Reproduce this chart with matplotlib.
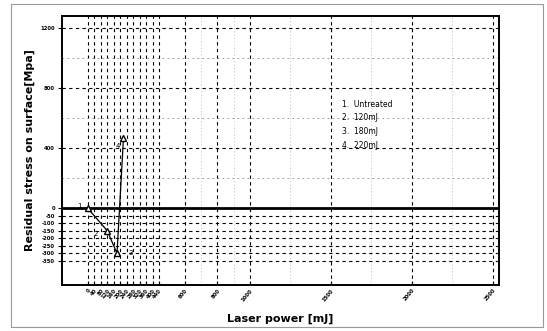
import matplotlib
matplotlib.use("Agg")
import matplotlib.pyplot as plt
from matplotlib.patches import Rectangle

# Data
power = [0, 120, 180, 220]
stress = [0, -150, -300, 470]
point_ids = ["1", "2", "3", "4"]
legend_lines = ["1.  Untreated", "2.  120mJ", "3.  180mJ", "4.  220mJ"]

xticks = [0, 40, 80, 120, 160, 200, 240, 280, 320, 360, 400, 440, 600, 800, 1000, 1500, 2000, 2500]
yticks = [-350, -300, -250, -200, -150, -100, -50, 0, 400, 800, 1200]
x_minor = [700, 900, 1250, 1750, 2250]
y_minor = [200, 600, 1000]

fig = plt.figure(figsize=(5.47, 3.31), dpi=100)
fig.patches.append(Rectangle((0.02, 0.012), 0.972, 0.975, transform=fig.transFigure,
                             fill=False, edgecolor="#999999", lw=0.8))
ax = fig.add_axes([0.1133, 0.139, 0.799, 0.813])

ax.set_xlim(-160, 2540)
ax.set_ylim(-510, 1280)

# grid
for xv in xticks:
    ax.axvline(xv, color="black", lw=0.8, ls=(0, (3, 3)), zorder=1)
for xv in x_minor:
    ax.axvline(xv, color="#aaaaaa", lw=0.6, ls=(0, (1, 3)), zorder=1)
for yv in yticks:
    if yv != 0:
        ax.axhline(yv, color="black", lw=0.8, ls=(0, (3, 3)), zorder=1)
for yv in y_minor:
    ax.axhline(yv, color="#888888", lw=0.6, ls=(0, (2, 4)), zorder=1)
ax.axhline(0, color="black", lw=2.0, zorder=2)

ax.plot(power, stress, color="black", lw=0.9, marker="^", markersize=5,
        markerfacecolor="white", markeredgecolor="black", zorder=3)
offsets = [(-6, 2), (-8, -2), (10, 0), (-4, -6)]
for xv, yv, t, (dx, dy) in zip(power, stress, point_ids, offsets):
    ax.annotate(t, (xv, yv), xytext=(dx, dy), textcoords="offset points",
                fontsize=5, ha="center", va="center")

ax.set_xticks(xticks)
ax.set_xticklabels([str(v) for v in xticks], rotation=50, fontsize=3.8,
                   fontweight="bold", ha="right", rotation_mode="anchor")
ax.set_yticks(yticks)
ax.set_yticklabels([str(v) for v in yticks], fontsize=3.8, fontweight="bold")
ax.tick_params(axis="both", length=3, width=0.8, direction="in", pad=2)
ax.tick_params(axis="y", direction="out")

for s in ax.spines.values():
    s.set_linewidth(1.4)

ax.set_xlabel("Laser power [mJ]", fontsize=8, fontweight="bold", labelpad=8)
ax.set_ylabel("Residual stress on surface[Mpa]", fontsize=8, fontweight="bold", labelpad=4)

for i, t in enumerate(legend_lines):
    ax.text(1570, 693 - i * 91, t, fontsize=5.5, ha="left", va="center")

fig.savefig("out.png", dpi=100)
